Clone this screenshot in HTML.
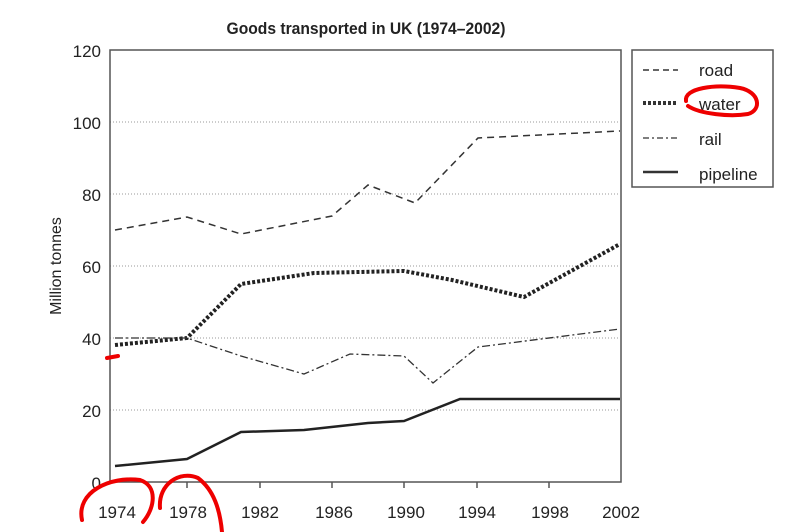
<!DOCTYPE html><html><head><style>body{margin:0;background:#fff}svg{display:block}text{font-family:"Liberation Sans",sans-serif;fill:#222}</style></head><body>
<svg width="800" height="532" viewBox="0 0 800 532">
<text x="366" y="34" font-size="17" font-weight="bold" text-anchor="middle" transform="translate(366,0) scale(0.92,1) translate(-366,0)">Goods transported in UK (1974–2002)</text>
<g stroke="#999" stroke-width="1" stroke-dasharray="1,2">
<line x1="110" y1="122" x2="620" y2="122"/><line x1="110" y1="194" x2="620" y2="194"/><line x1="110" y1="266" x2="620" y2="266"/><line x1="110" y1="338" x2="620" y2="338"/><line x1="110" y1="410" x2="620" y2="410"/></g>
<rect x="110" y="50" width="511" height="432" fill="none" stroke="#555" stroke-width="1.5"/>
<g stroke="#555" stroke-width="1.5"><line x1="187" y1="482" x2="187" y2="488"/><line x1="260" y1="482" x2="260" y2="488"/><line x1="332" y1="482" x2="332" y2="488"/><line x1="404" y1="482" x2="404" y2="488"/><line x1="477" y1="482" x2="477" y2="488"/><line x1="549" y1="482" x2="549" y2="488"/></g>
<g font-size="17" text-anchor="end"><text x="101" y="57">120</text><text x="101" y="129">100</text><text x="101" y="201">80</text><text x="101" y="273">60</text><text x="101" y="345">40</text><text x="101" y="417">20</text><text x="101" y="489">0</text></g>
<g font-size="17" text-anchor="middle"><text x="117" y="518">1974</text><text x="188" y="518">1978</text><text x="260" y="518">1982</text><text x="334" y="518">1986</text><text x="406" y="518">1990</text><text x="477" y="518">1994</text><text x="550" y="518">1998</text><text x="621" y="518">2002</text></g>
<text transform="translate(61,266) rotate(-90)" font-size="16" text-anchor="middle">Million tonnes</text>
<g fill="none" stroke="#333">
<polyline stroke-width="1.5" stroke-dasharray="7,5" points="115,230 187,217 241,234 332,216 368,185 415,203 478,138 620,131"/>
<polyline stroke-width="4" stroke-dasharray="3,2" stroke="#222" points="115,345 187,338 241,284 314,273 404,271 452,280 524,297 620,244"/>
<polyline stroke-width="1.3" stroke-dasharray="8,3,2,3" points="115,338 187,338 241,356 304,374 350,354 404,356 433,383 478,347 620,329"/>
<polyline stroke-width="2.5" stroke="#222" points="115,466 187,459 241,432 304,430 368,423 404,421 460,399 620,399"/>
</g>
<rect x="632" y="50" width="141" height="137" fill="#fff" stroke="#555" stroke-width="1.5"/>
<g fill="none" stroke="#333"><line x1="643" y1="70" x2="678" y2="70" stroke-dasharray="6,4" stroke-width="1.5"/><line x1="643" y1="103" x2="678" y2="103" stroke-dasharray="3,2" stroke-width="4"/><line x1="643" y1="138" x2="678" y2="138" stroke-dasharray="6,3,2,3" stroke-width="1.3"/><line x1="643" y1="172" x2="678" y2="172" stroke-width="2.5"/></g>
<g font-size="17"><text x="699" y="76">road</text><text x="699" y="110">water</text><text x="699" y="145">rail</text><text x="699" y="180">pipeline</text></g>
<g fill="none" stroke="#e00" stroke-width="4" stroke-linecap="round">
<path d="M686,101 C684,88 715,84 740,88 C760,92 762,110 748,114 C730,117 700,114 688,106"/>
<path d="M107,358 L118,356"/>
<path d="M82,520 C76,492 110,476 140,480 C158,486 155,508 143,522"/>
<path d="M160,508 C158,484 180,470 198,478 C214,490 220,510 222,532"/>
</g>
</svg></body></html>
